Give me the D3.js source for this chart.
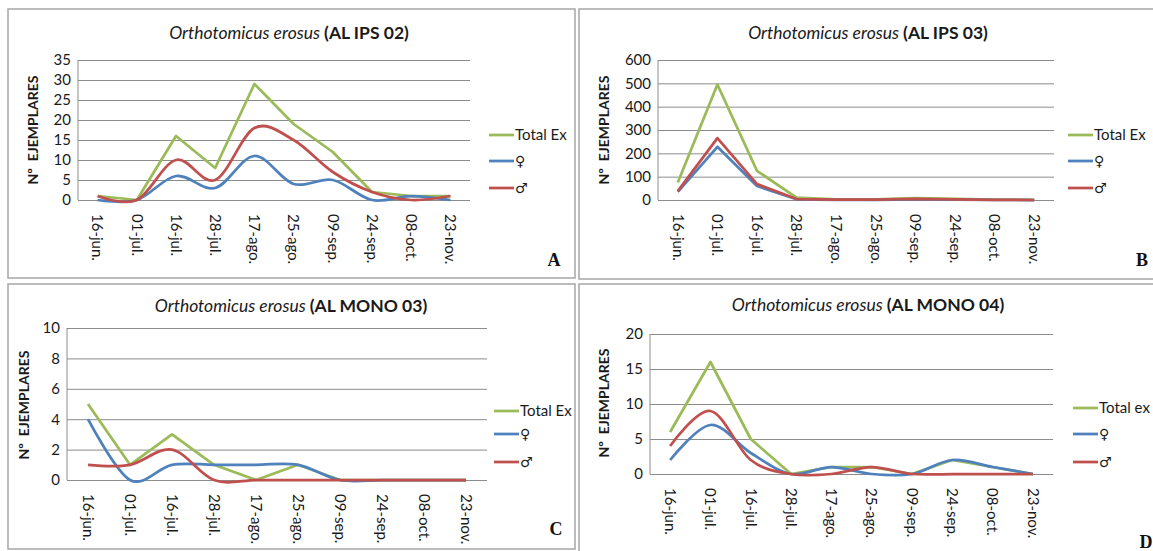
<!DOCTYPE html>
<html>
<head>
<meta charset="utf-8">
<script src="https://cdn.jsdelivr.net/npm/d3@7"></script>
<style>
	body { margin: 0; background: #fff; }
	svg { display: block; font-family: Lato, "Open Sans", sans-serif; }
</style>
</head>
<body>
<div class="panels"></div>
<script>
// sampling dates (x categories)
var fechas = ["16-jun.", "01-jul.", "16-jul.", "28-jul.", "17-ago.", "25-ago.", "09-sep.", "24-sep.", "08-oct.", "23-nov."];

// AL IPS 02
var ips02Total   = [1, 0, 16, 8, 29, 19, 12, 2, 1, 1];
var ips02Hembras = [0, 0, 6, 3, 11, 4, 5, 0, 1, 0];
var ips02Machos  = [1, 0, 10, 5, 18, 15, 7, 2, 0, 1];

// AL IPS 03
var ips03Total   = [75, 495, 125, 10, 3, 3, 8, 5, 2, 1];
var ips03Hembras = [35, 228, 60, 3, 1, 1, 3, 2, 0, 0];
var ips03Machos  = [38, 265, 68, 4, 2, 2, 5, 3, 1, 0];

// AL MONO 03
var mono03Total   = [5, 1, 3, 1, 0, 1, 0, 0, 0, 0];
var mono03Hembras = [4, 0, 1, 1, 1, 1, 0, 0, 0, 0];
var mono03Machos  = [1, 1, 2, 0, 0, 0, 0, 0, 0, 0];

// AL MONO 04
var mono04Total   = [6, 16, 5, 0, 1, 1, 0, 2, 1, 0];
var mono04Hembras = [2, 7, 3, 0, 1, 0, 0, 2, 1, 0];
var mono04Machos  = [4, 9, 2, 0, 0, 1, 0, 0, 0, 0];

// y tick values per panel
var ticksA = [0, 5, 10, 15, 20, 25, 30, 35];
var ticksB = [0, 100, 200, 300, 400, 500, 600];
var ticksC = [0, 2, 4, 6, 8, 10];
var ticksD = [0, 5, 10, 15, 20];

var COLORS = { total: "#9bbb59", hembra: "#4f81bd", macho: "#c0504d" };

var panels = [
	{ codigo: "(AL IPS 02)", letra: "A", total: ips02Total, hembras: ips02Hembras, machos: ips02Machos,
	  ticks: ticksA, totalLabel: "Total Ex", smooth: true,
	  box: [8, 9, 567, 269], plot: { l: 78, r: 470, t: 60, b: 200 }, titleX: 289, titleY: 39,
	  ytX: 33, ytY: 130, legX: 489, legY: [135, 161, 188], letX: 554, letY: 266 },
	{ codigo: "(AL IPS 03)", letra: "B", total: ips03Total, hembras: ips03Hembras, machos: ips03Machos,
	  ticks: ticksB, totalLabel: "Total Ex", smooth: false,
	  box: [579, 9, 600, 270], plot: { l: 658, r: 1054, t: 60, b: 200 }, titleX: 868, titleY: 39,
	  ytX: 604, ytY: 130, legX: 1068, legY: [135, 161, 188], letX: 1142, letY: 266 },
	{ codigo: "(AL MONO 03)", letra: "C", total: mono03Total, hembras: mono03Hembras, machos: mono03Machos,
	  ticks: ticksC, totalLabel: "Total Ex", smooth: true,
	  box: [8, 284, 567, 265], plot: { l: 67, r: 487, t: 328, b: 480 }, titleX: 291, titleY: 312,
	  ytX: 24, ytY: 405, legX: 494, legY: [411, 434, 462], letX: 556, letY: 535 },
	{ codigo: "(AL MONO 04)", letra: "D", total: mono04Total, hembras: mono04Hembras, machos: mono04Machos,
	  ticks: ticksD, totalLabel: "Total ex", smooth: true,
	  box: [579, 284, 600, 300], plot: { l: 650, r: 1053, t: 334, b: 474 }, titleX: 868, titleY: 311,
	  ytX: 604, ytY: 403, legX: 1073, legY: [408, 434, 462], letX: 1146, letY: 548 }
];

var svg = d3.select(".panels").append("svg")
	.attr("width", 1153)
	.attr("height", 551);

panels.forEach(function (p) {
	var g = svg.append("g");

	// frame
	g.append("rect")
		.attr("x", p.box[0]).attr("y", p.box[1])
		.attr("width", p.box[2]).attr("height", p.box[3])
		.attr("fill", "#fff")
		.attr("stroke", "#a6a6a6")
		.attr("stroke-width", 1.5);

	var x = d3.scaleBand().domain(fechas).range([p.plot.l, p.plot.r]);
	var y = d3.scaleLinear().domain([0, d3.max(p.ticks)]).range([p.plot.b, p.plot.t]);
	var cx = function (d, i) { return x(fechas[i]) + x.bandwidth() / 2; };

	// gridlines
	var grid = g.append("g")
		.attr("transform", "translate(" + p.plot.l + ",0)")
		.call(d3.axisLeft(y).tickValues(p.ticks).tickSize(-(p.plot.r - p.plot.l)).tickFormat(""));
	grid.select(".domain").remove();
	grid.selectAll("line").attr("stroke", "#8c8c8c").attr("stroke-width", 1);

	// vertical axis line
	g.append("line")
		.attr("x1", p.plot.l).attr("x2", p.plot.l)
		.attr("y1", p.plot.t).attr("y2", p.plot.b)
		.attr("stroke", "#8c8c8c");

	// y tick labels
	var yAx = g.append("g")
		.attr("transform", "translate(" + p.plot.l + ",0)")
		.call(d3.axisLeft(y).tickValues(p.ticks).tickSize(0).tickPadding(7));
	yAx.select(".domain").remove();
	yAx.selectAll("text").attr("font-size", 15).attr("fill", "#1a1a1a").attr("font-family", "Lato");

	// x tick labels, rotated
	var xAx = g.append("g")
		.attr("transform", "translate(0," + p.plot.b + ")")
		.call(d3.axisBottom(x).tickSize(0));
	xAx.select(".domain").remove();
	xAx.selectAll("text")
		.attr("x", 0).attr("y", 0).attr("dy", "0.35em")
		.attr("transform", "translate(0,14) rotate(90)")
		.attr("text-anchor", "start")
		.attr("font-size", 15).attr("fill", "#1a1a1a").attr("font-family", "Lato");

	// series
	var curve = p.smooth ? d3.curveCardinal : d3.curveLinear;
	var straight = d3.line().x(cx).y(function (d) { return y(d); });
	var smooth = d3.line().curve(curve).x(cx).y(function (d) { return y(d); });

	[[p.total, COLORS.total, straight], [p.hembras, COLORS.hembra, smooth], [p.machos, COLORS.macho, smooth]]
		.forEach(function (s) {
			g.append("path")
				.datum(s[0])
				.attr("d", s[2])
				.attr("fill", "none")
				.attr("stroke", s[1])
				.attr("stroke-width", 2.75)
				.attr("stroke-linejoin", "round");
		});

	// title
	var t = g.append("text")
		.attr("x", p.titleX).attr("y", p.titleY)
		.attr("text-anchor", "middle")
		.attr("font-size", 17.5).attr("fill", "#1a1a1a");
	t.append("tspan").attr("font-style", "italic").text("Orthotomicus erosus ");
	t.append("tspan").attr("font-weight", "bold").text(p.codigo);

	// y title
	g.append("text")
		.attr("transform", "translate(" + p.ytX + "," + p.ytY + ") rotate(-90)")
		.attr("text-anchor", "middle")
		.attr("dy", "0.35em")
		.attr("font-size", 14).attr("font-weight", "bold").attr("fill", "#1a1a1a")
		.style("white-space", "pre")
		.text("Nº  EJEMPLARES");

	// legend
	var leg = [[p.totalLabel, COLORS.total], ["♀", COLORS.hembra], ["♂", COLORS.macho]];
	leg.forEach(function (l, i) {
		g.append("line")
			.attr("x1", p.legX).attr("x2", p.legX + 25)
			.attr("y1", p.legY[i]).attr("y2", p.legY[i])
			.attr("stroke", l[1]).attr("stroke-width", 2.75);
		g.append("text")
			.attr("x", p.legX + 26).attr("y", p.legY[i])
			.attr("dy", "0.35em")
			.attr("font-size", i === 0 ? 15 : 14).attr("fill", "#1a1a1a")
			.attr("font-family", i === 0 ? "Lato" : "DejaVu Sans")
			.text(l[0]);
	});

	// panel letter
	g.append("text")
		.attr("x", p.letX).attr("y", p.letY)
		.attr("text-anchor", "middle")
		.attr("font-family", "Liberation Serif")
		.attr("font-weight", "bold").attr("font-size", 18)
		.attr("fill", "#111")
		.text(p.letra);
});
</script>
</body>
</html>
